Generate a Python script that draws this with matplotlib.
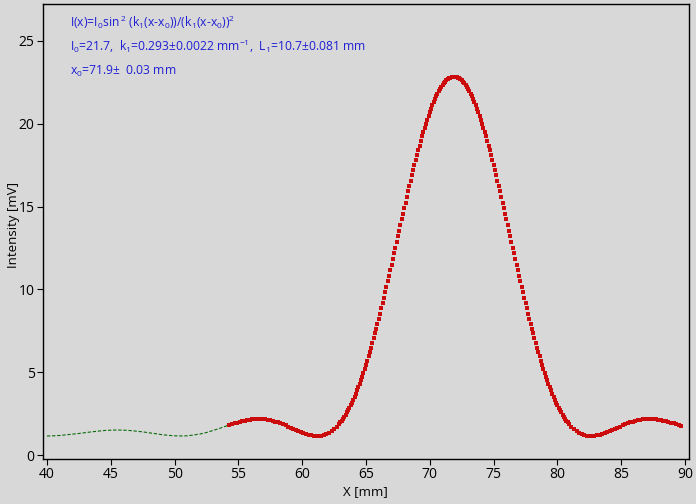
import numpy as np
import matplotlib
matplotlib.use("Agg")
import matplotlib.pyplot as plt

# single-slit diffraction scan: measured intensity (red) and fitted curve (green)
# measured positions [mm]: 0.2 mm steps on the side lobes, 0.1 mm across the main peak
meas_x = np.round(np.concatenate([
    np.arange(54.3, 62.75, 0.2),
    np.arange(62.9, 80.95, 0.1),
    np.arange(81.1, 89.75, 0.2),
]), 2)

meas_left = [1.82, 1.87, 1.92, 1.96, 2.01, 2.05, 2.08, 2.11, 2.14, 2.16,
             2.17, 2.17, 2.17, 2.16, 2.15, 2.13, 2.10, 2.06, 2.02, 1.97,
             1.91, 1.85, 1.79, 1.72, 1.65, 1.59, 1.52, 1.45, 1.38, 1.33,
             1.27, 1.23, 1.19, 1.16, 1.15, 1.15, 1.17, 1.21, 1.26, 1.34,
             1.44, 1.56, 1.71]
meas_peak = [1.88, 1.98, 2.08, 2.19, 2.31, 2.44, 2.57, 2.71, 2.86, 3.01,
             3.17, 3.34, 3.52, 3.71, 3.90, 4.10, 4.31, 4.52, 4.74, 4.97,
             5.21, 5.45, 5.70, 5.96, 6.22, 6.49, 6.77, 7.05, 7.34, 7.63,
             7.93, 8.23, 8.54, 8.85, 9.17, 9.49, 9.82, 10.15, 10.48, 10.81,
             11.15, 11.49, 11.83, 12.17, 12.51, 12.85, 13.20, 13.54, 13.88, 14.23,
             14.57, 14.90, 15.24, 15.57, 15.91, 16.23, 16.56, 16.88, 17.19, 17.50,
             17.81, 18.11, 18.40, 18.68, 18.96, 19.24, 19.50, 19.76, 20.01, 20.25,
             20.48, 20.70, 20.91, 21.11, 21.31, 21.49, 21.66, 21.82, 21.97, 22.11,
             22.24, 22.35, 22.46, 22.55, 22.63, 22.70, 22.75, 22.79, 22.83, 22.84,
             22.85,
             22.84, 22.83, 22.79, 22.75, 22.70, 22.63, 22.55, 22.46, 22.35, 22.24,
             22.11, 21.97, 21.82, 21.66, 21.49, 21.31, 21.11, 20.91, 20.70, 20.48,
             20.25, 20.01, 19.76, 19.50, 19.24, 18.96, 18.68, 18.40, 18.11, 17.81,
             17.50, 17.19, 16.88, 16.56, 16.23, 15.91, 15.57, 15.24, 14.90, 14.57,
             14.23, 13.88, 13.54, 13.20, 12.85, 12.51, 12.17, 11.83, 11.49, 11.15,
             10.81, 10.48, 10.15, 9.82, 9.49, 9.17, 8.85, 8.54, 8.23, 7.93,
             7.63, 7.34, 7.05, 6.77, 6.49, 6.22, 5.96, 5.70, 5.45, 5.21,
             4.97, 4.74, 4.52, 4.31, 4.10, 3.90, 3.71, 3.52, 3.34, 3.17,
             3.01, 2.86, 2.71, 2.57, 2.44, 2.31, 2.19, 2.08, 1.98, 1.88]
meas_right = [1.71, 1.56, 1.44, 1.34, 1.26, 1.21, 1.17, 1.15, 1.15, 1.16,
              1.19, 1.23, 1.27, 1.33, 1.38, 1.45, 1.52, 1.59, 1.65, 1.72,
              1.79, 1.85, 1.91, 1.97, 2.02, 2.06, 2.10, 2.13, 2.15, 2.16,
              2.17, 2.17, 2.17, 2.16, 2.14, 2.11, 2.08, 2.05, 2.01, 1.96,
              1.92, 1.87, 1.82, 1.76]
meas_y = meas_left + meas_peak + meas_right

# fitted curve outside the measured range
fit_x = [40.0, 40.5, 41.0, 41.5, 42.0, 42.5, 43.0, 43.5, 44.0, 44.5,
         45.0, 45.5, 46.0, 46.5, 47.0, 47.5, 48.0, 48.5, 49.0, 49.5,
         50.0, 50.5, 51.0, 51.5, 52.0, 52.5, 53.0, 53.5, 54.0, 54.5]
fit_y = [1.15, 1.16, 1.18, 1.22, 1.26, 1.30, 1.35, 1.40, 1.44, 1.48,
         1.50, 1.51, 1.50, 1.48, 1.44, 1.40, 1.34, 1.29, 1.23, 1.19,
         1.16, 1.15, 1.16, 1.21, 1.27, 1.36, 1.48, 1.60, 1.74, 1.87]

x_ticks = [40, 45, 50, 55, 60, 65, 70, 75, 80, 85, 90]
y_ticks = [0, 5, 10, 15, 20, 25]

fit_lines = [
    r"I(x)=I$_0$sin$^{\,2}$ (k$_1$(x-x$_0$))/(k$_1$(x-x$_0$))$^2$",
    r"I$_0$=21.7,  k$_1$=0.293±0.0022 mm$^{-1}$,  L$_1$=10.7±0.081 mm",
    r"x$_0$=71.9±  0.03 mm",
]

bg = "#d8d8d8"
plt.rcParams["font.family"] = ["Open Sans", "DejaVu Sans"]
plt.rcParams["mathtext.fontset"] = "custom"
plt.rcParams["mathtext.rm"] = "Open Sans"
plt.rcParams["mathtext.it"] = "Open Sans"
plt.rcParams["mathtext.default"] = "regular"

W, H = 696, 504
fig = plt.figure(figsize=(W / 100, H / 100), dpi=100, facecolor=bg)
ax = fig.add_axes([43 / W, 1 - 459 / H, 646 / W, 455 / H], facecolor=bg)

ax.plot(fit_x, fit_y, color="#0b6b0b", lw=0.8, ls=(0, (3, 1.6)), zorder=2)
ax.plot(meas_x, meas_y, ls="none", marker="s", ms=3.0, mew=0,
        color="#cc0c0c", zorder=3)

ax.set_xlim(39.69, 90.31)
ax.set_ylim(-0.24, 27.23)
ax.set_xticks(x_ticks)
ax.set_yticks(y_ticks)
ax.tick_params(direction="out", length=4, width=0.8, colors="black",
               labelsize=10, pad=2)
for s in ax.spines.values():
    s.set_color("black")
    s.set_linewidth(1.0)

fig.text(365 / W, 1 - 492 / H, "X [mm]", ha="center", va="center", fontsize=9.5)
fig.text(13 / W, 1 - 225 / H, "Intensity [mV]", ha="center", va="center",
         rotation=90, fontsize=9.5)

for txt, yb in zip(fit_lines, [27, 51, 75]):
    fig.text(70 / W, 1 - yb / H, txt, ha="left", va="baseline",
             fontsize=8.7, color="#1f1fd4")

fig.savefig("out.png", dpi=100, facecolor=bg)
